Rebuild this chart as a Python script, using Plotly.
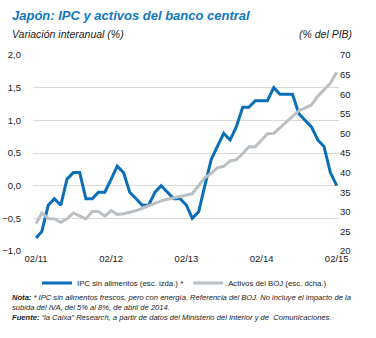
import pandas as pd
import plotly.graph_objects as go

# Monthly data, 02/2011 .. 02/2015
months = pd.date_range("2011-02-01", periods=49, freq="MS")

ipc = [-0.8, -0.7, -0.3, -0.2, -0.3, 0.1, 0.2, 0.2, -0.2, -0.2, -0.1, -0.1,
       0.1, 0.3, 0.2, -0.1, -0.2, -0.3, -0.3, -0.1, 0.0, -0.1, -0.2, -0.2,
       -0.3, -0.5, -0.4, 0.0, 0.4, 0.6, 0.8, 0.7, 0.9, 1.2, 1.2, 1.3,
       1.3, 1.3, 1.5, 1.4, 1.4, 1.4, 1.1, 1.0, 0.9, 0.7, 0.6, 0.2, 0.0]

activos = [27.0, 29.7, 28.3, 28.2, 27.3, 28.2, 29.7, 29.0, 28.2, 30.1, 30.1, 28.9,
           30.3, 29.3, 29.5, 29.9, 30.3, 30.9, 31.6, 32.2, 32.8, 33.2, 33.5, 33.8,
           34.3, 34.6, 36.7, 38.7, 39.8, 41.2, 41.6, 43.0, 43.3, 44.8, 46.6, 46.6,
           48.3, 49.9, 50.0, 51.4, 53.0, 54.3, 55.8, 56.5, 57.3, 59.5, 61.0, 62.8, 65.6]

year_ticks = ["2011-02-01", "2012-02-01", "2013-02-01", "2014-02-01", "2015-02-01"]
year_labels = ["02/11", "02/12", "02/13", "02/14", "02/15"]

BLUE = "#0a6fb8"
GRAY = "#b9bfc3"
TXT = "#1a1a1a"
FONT = "Liberation Sans, Arial, sans-serif"

L, R, T, B = 33, 37, 55, 87
W, H = 376, 338
PW, PH = W - L - R, H - T - B


def px(x):
    return (x - L) / PW


def py(y):
    return (H - B - y) / PH


xr = ["2011-01-17", "2015-02-12"]

fig = go.Figure()
fig.add_trace(go.Scatter(x=months, y=ipc, mode="lines", name="IPC sin alimentos (esc. izda.) *",
                         line=dict(color=BLUE, width=3), xaxis="x", yaxis="y"))
fig.add_trace(go.Scatter(x=months, y=activos, mode="lines", name="Activos del BOJ (esc. dcha.)",
                         line=dict(color=GRAY, width=3), xaxis="x", yaxis="y2"))

fig.update_layout(
    width=W, height=H,
    margin=dict(l=L, r=R, t=T, b=B, autoexpand=False),
    paper_bgcolor="white", plot_bgcolor="white",
    separators=",.",
    font=dict(family=FONT, size=10, color=TXT),
    showlegend=True,
    legend=dict(orientation="h", x=px(37), y=py(283), xanchor="left", yanchor="middle",
                font=dict(family=FONT, size=7.8, color=TXT),
                itemwidth=30, tracegroupgap=0, bgcolor="rgba(0,0,0,0)"),
    xaxis=dict(range=xr, tickvals=year_ticks, ticktext=year_labels, showgrid=False,
               showline=False, ticks="", zeroline=False, automargin=False,
               tickfont=dict(family=FONT, size=9.5, color=TXT)),
    xaxis2=dict(range=xr, overlaying="x", anchor="free", position=1/3, side="top",
                tickvals=year_ticks, showticklabels=False, ticks="outside", ticklen=3,
                tickcolor="#555555", showline=True, linecolor="#555555", linewidth=1,
                showgrid=False, zeroline=False, automargin=False),
    yaxis=dict(range=[-1.0, 2.0], dtick=0.5, tickformat=".1f", showgrid=True,
               gridcolor="#d9d9d9", gridwidth=1, zeroline=False, showline=False,
               ticks="", ticklabelstandoff=11, automargin=False,
               tickfont=dict(family=FONT, size=9.5, color=TXT)),
    yaxis2=dict(range=[20, 70], dtick=5, overlaying="y", side="right", showgrid=False,
                zeroline=False, showline=False, ticks="", automargin=False,
                tickfont=dict(family=FONT, size=9.5, color=TXT)),
)

annotations = [
    dict(text="<b><i>Japón: IPC y activos del banco central</i></b>", x=px(10), y=py(16),
         xanchor="left", yanchor="middle",
         font=dict(family=FONT, size=13, color="#1278c0")),
    dict(text="<i>Variación interanual (%)</i>", x=px(10), y=py(34), xanchor="left", yanchor="middle",
         font=dict(family=FONT, size=10.5, color=TXT)),
    dict(text="<i>(% del PIB)</i>", x=px(354), y=py(34), xanchor="right", yanchor="middle",
         font=dict(family=FONT, size=10.5, color=TXT)),
    dict(text=("<i><b>Nota:</b> * IPC sin alimentos frescos, pero con energía. Referencia del BOJ. "
               "No incluye el impacto de la<br>subida del IVA, del 5% al 8%, de abril de 2014.<br>"
               "<b>Fuente:</b> “la Caixa” Research, a partir de datos del Ministerio del Interior "
               "y de  Comunicaciones.</i>"),
         x=px(10), y=py(291), xanchor="left", yanchor="top", align="left",
         font=dict(family=FONT, size=7.6, color=TXT)),
]
for a in annotations:
    a.update(xref="paper", yref="paper", showarrow=False)
fig.update_layout(annotations=annotations)

fig.write_html("out.html")
